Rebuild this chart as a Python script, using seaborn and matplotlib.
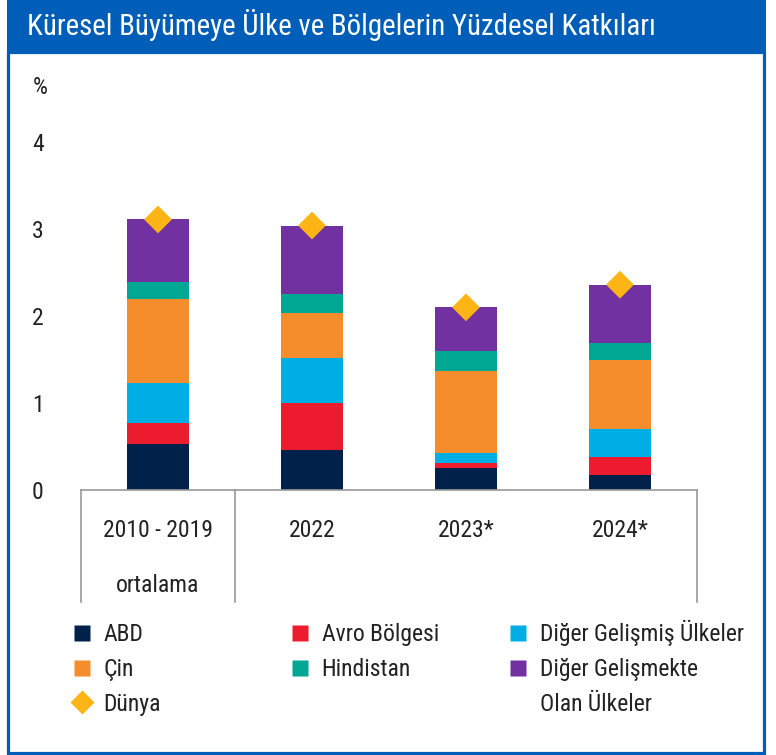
import numpy as np
import pandas as pd
import matplotlib.pyplot as plt
import seaborn as sns
from matplotlib import font_manager
from matplotlib.patches import Rectangle
from matplotlib.lines import Line2D
import matplotlib.transforms as mtransforms

periods = ['2010 - 2019\nortalama', '2022', '2023*', '2024*']
abd = [0.53, 0.46, 0.25, 0.17]
avro = [0.24, 0.54, 0.06, 0.21]
diger_gelismis = [0.46, 0.52, 0.11, 0.32]
cin = [0.97, 0.51, 0.95, 0.80]
hindistan = [0.19, 0.22, 0.23, 0.19]
diger_gelismekte = [0.72, 0.79, 0.50, 0.67]
dunya = [3.11, 3.04, 2.10, 2.36]

series_names = ['ABD', 'Avro Bölgesi', 'Diğer Gelişmiş Ülkeler', 'Çin', 'Hindistan',
                'Diğer Gelişmekte Olan Ülkeler']
series_vals = [abd, avro, diger_gelismis, cin, hindistan, diger_gelismekte]
colors = ['#00224A', '#EC1C2E', '#00AEE6', '#F68D2C', '#00A792', '#7131A0']
world_color = '#FDB515'
blue = '#005EB8'

names = {f.name for f in font_manager.fontManager.ttflist}
font = 'DejaVu Sans'
for cand in ['Liberation Sans Narrow', 'Roboto Condensed', 'Open Sans Condensed']:
    if cand in names:
        font = cand
        break
plt.rcParams['font.family'] = [font, 'DejaVu Sans']

W, H = 776, 755
fig = plt.figure(figsize=(W / 100, H / 100), dpi=100)

def fx(px):
    return px / W

def fy(py):
    return 1 - py / H

# frame and title bar
fig.add_artist(Rectangle((fx(8), fy(753)), fx(756), (753 - 52) / H, transform=fig.transFigure,
                         fill=False, edgecolor=blue, linewidth=2.3))
fig.add_artist(Rectangle((fx(7), fy(52)), fx(759), 52 / H, transform=fig.transFigure,
                         facecolor=blue, edgecolor='none'))
fig.text(fx(27), fy(25), 'Küresel Büyümeye Ülke ve Bölgelerin Yüzdesel Katkıları',
         color='white', fontsize=20.8, va='center', ha='left')

unit = 87
ax = fig.add_axes([fx(81), fy(490), fx(697) - fx(81), 4.5 * unit / H])

df = pd.DataFrame({'period': periods})
cum = np.zeros(len(periods))
cums = []
for v in series_vals:
    cum = cum + np.array(v)
    cums.append(cum.copy())

# stacked bars: draw cumulative totals from top to bottom
for name, c, col in reversed(list(zip(series_names, cums, colors))):
    d = df.assign(val=c)
    sns.barplot(data=d, x='period', y='val', color=col, width=0.4, saturation=1,
                edgecolor='none', ax=ax, zorder=2)

dw = df.assign(val=dunya)
sns.scatterplot(data=dw, x='period', y='val', marker='D', s=200, color=world_color,
                edgecolor='none', ax=ax, zorder=5, clip_on=False)

ax.set_xlim(-0.5, 3.5)
ax.set_ylim(0, 4.5)
ax.set_yticks([0, 1, 2, 3, 4])
ax.set_xlabel('')
ax.set_ylabel('')
for s in ['left', 'top', 'right']:
    ax.spines[s].set_visible(False)
ax.spines['bottom'].set_color('#9a9a9a')
ax.spines['bottom'].set_linewidth(1.2)
ax.tick_params(axis='y', length=0, pad=31, labelsize=17, colors='#222222')
ax.tick_params(axis='x', length=0, pad=21, labelsize=17, colors='#222222')
for lbl in ax.get_xticklabels():
    lbl.set_linespacing(2.75)
for lbl in ax.get_yticklabels():
    lbl.set_horizontalalignment('center')

# separators under the axis
trans = mtransforms.blended_transform_factory(ax.transData, ax.transAxes)
depth = -(602 - 490) / (4.5 * unit)
for xv in [-0.5, 0.5, 3.5]:
    ax.add_line(Line2D([xv, xv], [0, depth], transform=trans, color='#9a9a9a',
                       linewidth=1.2, clip_on=False))

fig.text(fx(40), fy(87), '%', fontsize=17, ha='center', va='center', color='#222222')

# legend in three columns
def handle(col, marker='s'):
    if col is None:
        return Line2D([], [], linestyle='none', marker='none')
    return Line2D([], [], marker=marker, linestyle='none', markersize=11 if marker == 's' else 12,
                  markerfacecolor=col, markeredgecolor='none')

columns = [
    ([handle(colors[0]), handle(colors[3]), handle(world_color, 'D')], ['ABD', 'Çin', 'Dünya'], 73, 623),
    ([handle(colors[1]), handle(colors[4])], ['Avro Bölgesi', 'Hindistan'], 291, 623),
    ([handle(colors[2]), handle(colors[5]), handle(None)],
     ['Diğer Gelişmiş Ülkeler', 'Diğer Gelişmekte', 'Olan Ülkeler'], 509, 620),
]
for hs, labs, xpx, ypx in columns:
    leg = fig.legend(hs, labs, loc='upper left', bbox_to_anchor=(fx(xpx), fy(ypx)),
                     frameon=False, fontsize=17, handlelength=0.8, handletextpad=0.5,
                     labelspacing=0.5, borderpad=0, borderaxespad=0)
    for t in leg.get_texts():
        t.set_color('#222222')

fig.savefig('out.png', dpi=100)
